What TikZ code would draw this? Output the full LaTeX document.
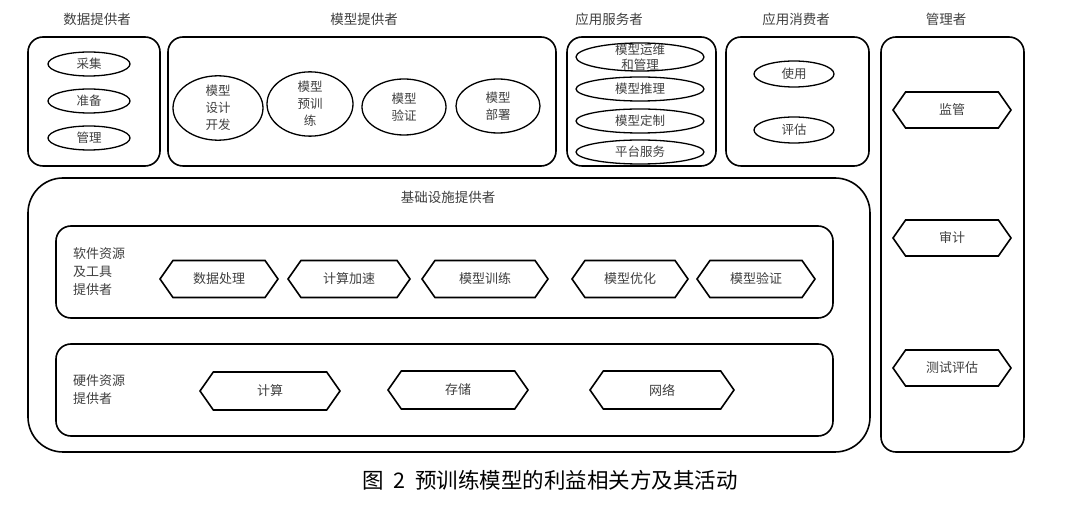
\documentclass[tikz,border=0pt]{standalone}
\usepackage{fontspec}
\setmainfont{Noto Sans CJK SC}
\usetikzlibrary{shapes.geometric,shapes.symbols}
\begin{document}
\begin{tikzpicture}[x=1pt,y=-1pt,
  grp/.style={draw, line width=1.6pt, rounded corners=15pt, inner sep=0pt},
  ell/.style={draw, ellipse, line width=1.3pt, inner sep=0pt, font=\fontsize{12.5}{17}\selectfont, text=black!75, align=center},
  hexa/.style={draw, signal, signal to=west and east, signal pointer angle=110, line width=1.6pt, inner sep=0pt, font=\fontsize{13}{15}\selectfont, text=black!75},
  ttl/.style={font=\fontsize{13.5}{15}\selectfont, text=black!75, inner sep=0pt},
  side/.style={font=\fontsize{13}{18}\selectfont, text=black!75, align=left, anchor=west, inner sep=0pt}]
\useasboundingbox (0,0) rectangle (1080,510);
\fill[white] (0,0) rectangle (1080,510);
% group boxes
\node[grp, minimum width=132, minimum height=129] (dp) at (94,101.5) {};
\node[grp, minimum width=388, minimum height=129] (mp) at (362,101.5) {};
\node[grp, minimum width=149, minimum height=129] (as) at (641.5,101.5) {};
\node[grp, minimum width=143, minimum height=129] (ac) at (797.5,101.5) {};
\node[grp, minimum width=143, minimum height=415] (mg) at (952.5,244.5) {};
\node[grp, rounded corners=35pt, minimum width=842, minimum height=274] (inf) at (449,315) {};
\node[grp, minimum width=777, minimum height=92] (sw) at (444.5,272) {};
\node[grp, minimum width=777, minimum height=92] (hw) at (444.5,390) {};
% titles
\node[ttl] (tdp) at (97,19) {数据提供者};
\node[ttl] (tmp) at (364,19) {模型提供者};
\node[ttl] (tas) at (609,19) {应用服务者};
\node[ttl] (tac) at (796,19) {应用消费者};
\node[ttl] (tmg) at (946,19) {管理者};
\node[ttl] (tinf) at (448,197) {基础设施提供者};
\node[side] (tsw) at (73,272) {软件资源\\及工具\\提供者};
\node[side] (thw) at (73,390) {硬件资源\\提供者};
% data provider
\node[ell, minimum width=82, minimum height=24] (e1) at (89,64) {采集};
\node[ell, minimum width=82, minimum height=24] (e2) at (89,101) {准备};
\node[ell, minimum width=82, minimum height=24] (e3) at (89,138) {管理};
% model provider
\node[ell, minimum width=90, minimum height=56] (m1) at (218,108) {模型\\设计\\开发};
\node[ell, minimum width=86, minimum height=58] (m2) at (310,104) {模型\\预训\\练};
\node[ell, minimum width=84, minimum height=56] (m3) at (404,107) {模型\\验证};
\node[ell, minimum width=84, minimum height=54] (m4) at (498,106) {模型\\部署};
% application service
\node[ell, minimum width=128, minimum height=28, label={[font=\fontsize{12.5}{15}\selectfont, text=black!75, align=center]center:模型运维\\和管理}] (s1) at (640,57) {};
\node[ell, minimum width=128, minimum height=24] (s2) at (640,89) {模型推理};
\node[ell, minimum width=128, minimum height=24] (s3) at (640,121) {模型定制};
\node[ell, minimum width=128, minimum height=24] (s4) at (640,152) {平台服务};
% application consumer
\node[ell, minimum width=80, minimum height=26] (c1) at (794,74) {使用};
\node[ell, minimum width=80, minimum height=26] (c2) at (794,130) {评估};
% manager
\node[hexa, minimum width=118, minimum height=36] (g1) at (952,110) {监管};
\node[hexa, minimum width=118, minimum height=36] (g2) at (952,238) {审计};
\node[hexa, minimum width=118, minimum height=36] (g3) at (952,368) {测试评估};
% software
\node[hexa, minimum width=118, minimum height=37] (h1) at (219,279) {数据处理};
\node[hexa, minimum width=122, minimum height=37] (h2) at (349,279) {计算加速};
\node[hexa, minimum width=126, minimum height=37] (h3) at (485,279) {模型训练};
\node[hexa, minimum width=116, minimum height=37] (h4) at (630,279) {模型优化};
\node[hexa, minimum width=118, minimum height=37] (h5) at (756,279) {模型验证};
% hardware
\node[hexa, minimum width=140, minimum height=38] (w1) at (270,391) {计算};
\node[hexa, minimum width=140, minimum height=38] (w2) at (458,390) {存储};
\node[hexa, minimum width=144, minimum height=38] (w3) at (662,390) {网络};
% caption
\node[font=\fontsize{21.5}{24}\selectfont, inner sep=0pt] (cap) at (550,480) {图\ \ 2\ \ 预训练模型的利益相关方及其活动};
\end{tikzpicture}
\end{document}
